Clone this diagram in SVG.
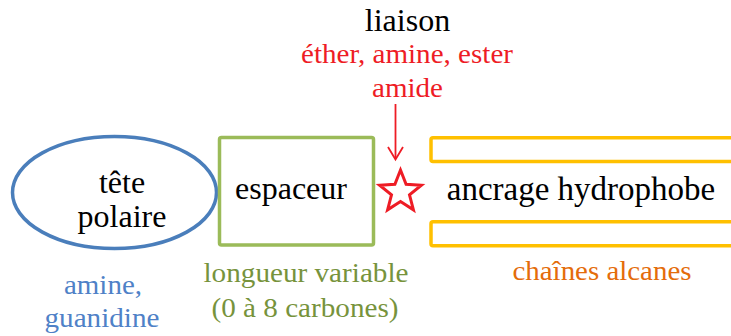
<svg xmlns="http://www.w3.org/2000/svg" width="731" height="336" viewBox="0 0 731 336">
  <rect width="731" height="336" fill="#ffffff"/>

  <g id="tete-polaire">
    <ellipse cx="114.5" cy="192.5" rx="102" ry="56" fill="none" stroke="#4a7ebb" stroke-width="3.5"/>
    <text x="122" y="193" font-family="Liberation Serif" font-size="32" fill="#000000" text-anchor="middle">t&#234;te</text>
    <text x="122" y="227" font-family="Liberation Serif" font-size="32" fill="#000000" text-anchor="middle">polaire</text>
  </g>

  <g id="espaceur">
    <rect x="219.5" y="137.5" width="154" height="107.5" rx="2" fill="none" stroke="#9bbb59" stroke-width="3.5"/>
    <text x="291" y="199" font-family="Liberation Serif" font-size="32" fill="#000000" text-anchor="middle">espaceur</text>
  </g>

  <g id="liaison">
    <polygon points="400.5,170 406.1,184.3 421.4,185.2 409.5,194.9 413.4,209.8 400.5,201.5 387.6,209.8 391.5,194.9 379.6,185.2 394.9,184.3" fill="#ffffff" stroke="#ee1c25" stroke-width="3"/>
    <text x="407.5" y="31" font-family="Liberation Serif" font-size="32" fill="#000000" text-anchor="middle">liaison</text>
    <text x="407" y="63" font-family="Liberation Serif" font-size="27" fill="#ee1c25" text-anchor="middle" textLength="212" lengthAdjust="spacingAndGlyphs">&#233;ther, amine, ester</text>
    <text x="407.5" y="97" font-family="Liberation Serif" font-size="27" fill="#ee1c25" text-anchor="middle" textLength="71" lengthAdjust="spacingAndGlyphs">amide</text>
  </g>

  <g id="ancrage-hydrophobe">
    <rect x="431" y="137.8" width="320" height="23.8" rx="2" fill="none" stroke="#ffc000" stroke-width="3.5"/>
    <rect x="431" y="221.8" width="320" height="24" rx="2" fill="none" stroke="#ffc000" stroke-width="3.5"/>
    <text x="581" y="200" font-family="Liberation Serif" font-size="33" fill="#000000" text-anchor="middle">ancrage hydrophobe</text>
  </g>

  <g id="labels">
    <text x="103" y="294" font-family="Liberation Serif" font-size="27" fill="#4f81c7" text-anchor="middle" textLength="78" lengthAdjust="spacingAndGlyphs">amine,</text>
    <text x="102" y="327" font-family="Liberation Serif" font-size="27" fill="#4f81c7" text-anchor="middle" textLength="115" lengthAdjust="spacingAndGlyphs">guanidine</text>
    <text x="306" y="282" font-family="Liberation Serif" font-size="27" fill="#77933c" text-anchor="middle" textLength="205" lengthAdjust="spacingAndGlyphs">longueur variable</text>
    <text x="305" y="317" font-family="Liberation Serif" font-size="27" fill="#77933c" text-anchor="middle" textLength="187" lengthAdjust="spacingAndGlyphs">(0 &#224; 8 carbones)</text>
    <text x="602" y="280" font-family="Liberation Serif" font-size="27" fill="#e46c0a" text-anchor="middle" textLength="179" lengthAdjust="spacingAndGlyphs">cha&#238;nes alcanes</text>
  </g>

  <g id="connectors">
    <line x1="395.5" y1="104" x2="395.5" y2="159" stroke="#ee1c25" stroke-width="1.8"/>
    <polyline points="388,147 395.5,159.5 403,147" fill="none" stroke="#ee1c25" stroke-width="1.8"/>
  </g>
</svg>
